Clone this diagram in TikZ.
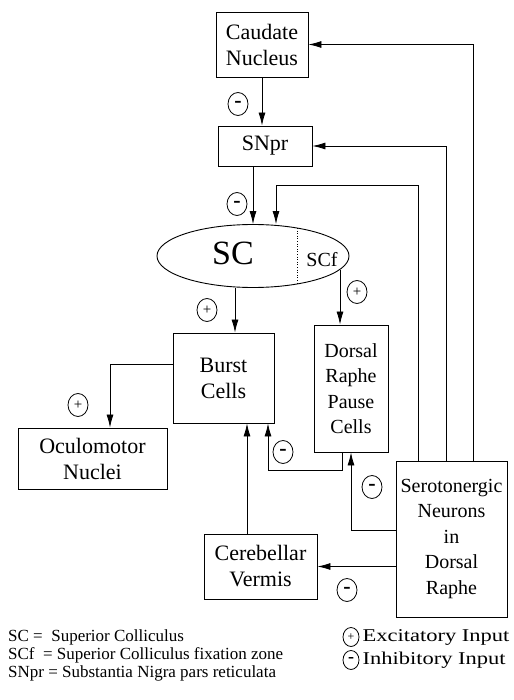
\documentclass[tikz,border=0pt]{standalone}
\usepackage{fontspec}
\setmainfont{Liberation Serif}
\newfontfamily\widefont[FakeStretch=1.25]{Liberation Serif}
\usetikzlibrary{arrows.meta,shapes.geometric,positioning,calc}
\tikzset{
    link/.style={-{Latex[length=13pt, width=7pt]}, line width=0.8pt},
    box/.style={draw, line width=0.9pt, align=center, inner sep=0pt, font=\fontsize{22}{26}\selectfont},
    narrow/.style={box, font=\fontsize{20}{25.5}\selectfont},
    sign/.style={draw, ellipse, line width=0.8pt, minimum width=20pt, minimum height=23pt, inner sep=0pt, font=\fontsize{15}{15}\selectfont},
    neg/.style={sign, font=\bfseries\fontsize{22}{22}\selectfont},
    key/.style={sign, minimum width=16pt, minimum height=19pt, font=\fontsize{12}{12}\selectfont},
    keyneg/.style={key, font=\bfseries\fontsize{18}{18}\selectfont}
}

\begin{document}
\begin{tikzpicture}[x=1pt, y=-1pt]
\useasboundingbox (0,0) rectangle (513,700);
\node[box, minimum width=92pt, minimum height=65pt] (CN) at (262,44.5) {Caudate\\Nucleus};
\node[box, minimum width=94pt, minimum height=40pt] (SNpr) at (265,146) {SNpr};
\node[draw, ellipse, line width=0.9pt, minimum width=192pt, minimum height=63pt] (SC) at (253,256) {};
\node[font=\fontsize{34}{34}\selectfont, inner sep=0pt] (SCl) at ([xshift=-20pt, yshift=3pt]SC.center) {SC};
\node[font=\fontsize{20}{20}\selectfont, inner sep=0pt] (SCf) at ([xshift=69pt, yshift=-4pt]SC.center) {SCf};
\node[box, minimum width=101pt, minimum height=90pt] (BC) at (223.5,378) {Burst\\Cells};
\node[narrow, minimum width=74pt, minimum height=127pt] (DR) at (351,388.5) {Dorsal\\Raphe\\Pause\\Cells};
\node[box, minimum width=149pt, minimum height=61pt] (OM) at (92.5,458.5) {Oculomotor\\Nuclei};
\node[narrow, minimum width=111pt, minimum height=156pt] (Sero) at (451.5,539) {Serotonergic\\Neurons\\in\\Dorsal\\Raphe};
\node[box, minimum width=113pt, minimum height=65pt] (CV) at (260.5,566.5) {Cerebellar\\Vermis};
\coordinate (SCin) at (276,185);

\draw[dotted, line width=0.6pt, shorten <=4pt, shorten >=4pt] ([xshift=44pt]SC.north) -- ([xshift=44pt]SC.south);

\draw[link] (CN) -- (CN.south |- SNpr.north);
\draw[link] ([xshift=-12pt]SNpr.south) -- ([xshift=-12pt]SNpr.south |- SC.north);
\draw[link] ([xshift=21.5pt]Sero.north) |- (CN.east);
\draw[link] ([xshift=-5.5pt]Sero.north) |- (SNpr.east);
\draw[link] ([xshift=-33.5pt]Sero.north) |- (SCin) -- (SCin |- SC.north);
\draw[link] ([xshift=11.5pt]BC.north |- SC.south) -- ([xshift=11.5pt]BC.north);
\draw[link] (SC.-9.4) -- (SC.-9.4 |- DR.north);
\draw[link] ([yshift=14pt]BC.west) -| ([xshift=17.5pt]OM.north);
\draw[link] ([xshift=-9pt]DR.south) -- ++(0,18) -| ([xshift=44.5pt]BC.south);
\draw[link] ([yshift=9pt]Sero.west) -| (DR.south);
\draw[link] ([xshift=23.5pt]BC.south |- CV.north) -- ([xshift=23.5pt]BC.south);
\draw[link] (Sero.west |- CV.east) -- (CV.east);

\node[neg] (s1) at (238,104) {-};
\node[neg] (s2) at (237,204) {-};
\node[sign] (s3) at (207,310) {+};
\node[sign] (s4) at (357,292) {+};
\node[sign] (s5) at (78,405) {+};
\node[neg] (s6) at (283,452) {-};
\node[neg] (s7) at (372,487) {-};
\node[neg] (s8) at (347,590) {-};

\node[anchor=west, align=left, inner sep=0pt, font=\fontsize{17}{18}\selectfont] (abbr) at (8,655) {SC =\ \ Superior Colliculus\\SCf\ \ = Superior Colliculus fixation zone\\SNpr = Substantia Nigra pars reticulata};
\node[key] (kp) at (351,637) {+};
\node[right=3pt of kp, inner sep=0pt, font=\widefont\fontsize{18}{18}\selectfont] (kpt) {Excitatory Input};
\node[keyneg] (km) at (351,660) {-};
\node[right=3pt of km, inner sep=0pt, font=\widefont\fontsize{18}{18}\selectfont] (kmt) {Inhibitory Input};
\end{tikzpicture}
\end{document}
